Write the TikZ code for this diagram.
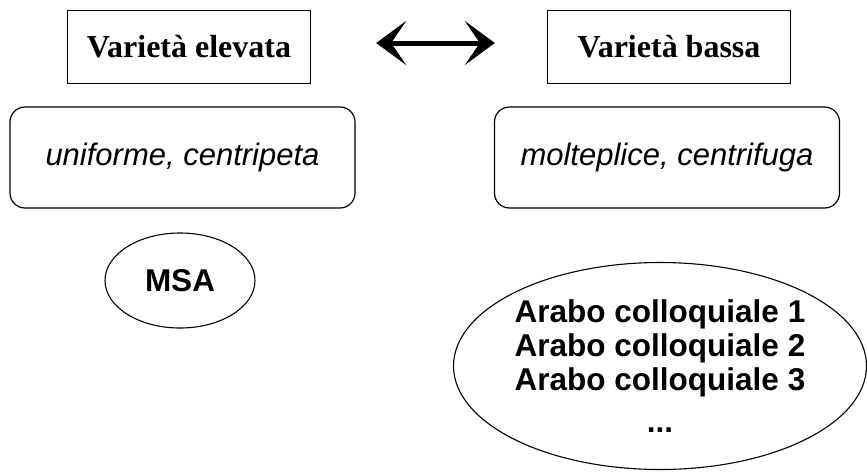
\documentclass[tikz,border=0pt]{standalone}
\usepackage{fontspec}
\setmainfont{Liberation Sans}
\newfontfamily\titlefont{Liberation Serif}
\usetikzlibrary{arrows.meta,shapes.geometric}

\begin{document}
\begin{tikzpicture}[x=1pt, y=-1pt,
  titlebox/.style={draw, line width=1.3pt, minimum width=243pt, minimum height=73pt,
    font=\titlefont\bfseries\fontsize{32}{35}\selectfont},
  propbox/.style={draw, rounded corners=15pt, line width=1.2pt, minimum width=345pt,
    minimum height=101pt, font=\itshape\fontsize{31}{35}\selectfont},
  varellipse/.style={draw, ellipse, line width=1.1pt, inner sep=0pt,
    font=\bfseries\fontsize{31.5}{34}\selectfont, align=center}]
  \useasboundingbox (0,0) rectangle (867,471);

  \node[titlebox] (elevata) at (189,47) {Varietà elevata};
  \node[titlebox] (bassa) at (669,47) {Varietà bassa};

  \node[propbox] (uniforme) at (182.5,157.5) {uniforme, centripeta};
  \node[propbox] (molteplice) at (667,157.5) {molteplice, centrifuga};

  \node[varellipse, minimum width=150pt, minimum height=95pt] (msa) at (180,280.5) {MSA};
  \node[varellipse, minimum width=413pt, minimum height=207pt] (colloquiale) at (660,366)
    {Arabo colloquiale 1\\Arabo colloquiale 2\\Arabo colloquiale 3\\[8pt]...};

  \draw[{Stealth[length=30pt,width=44pt,inset=15pt]}-{Stealth[length=30pt,width=44pt,inset=15pt]}, line width=5pt,
    shorten <=65pt, shorten >=52pt] ([yshift=4pt]elevata.east) -- ([yshift=4pt]bassa.west);
\end{tikzpicture}
\end{document}
